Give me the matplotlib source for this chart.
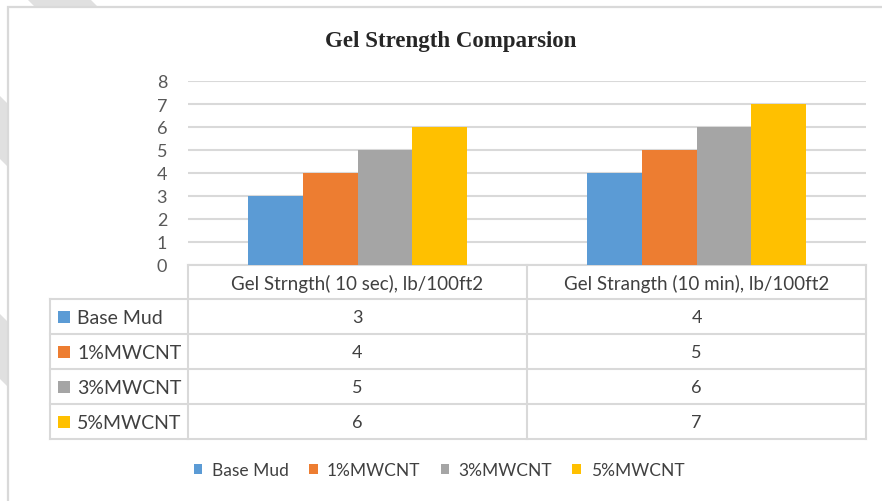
import matplotlib
matplotlib.use("Agg")
import matplotlib.pyplot as plt
from matplotlib.patches import Rectangle, Polygon
import numpy as np

title = "Gel Strength Comparsion"
categories = ["Gel Strngth( 10 sec), lb/100ft2", "Gel Strangth (10 min), lb/100ft2"]
series_names = ["Base Mud", "1%MWCNT", "3%MWCNT", "5%MWCNT"]
base_mud = [3, 4]
mwcnt_1 = [4, 5]
mwcnt_3 = [5, 6]
mwcnt_5 = [6, 7]
series_values = [base_mud, mwcnt_1, mwcnt_3, mwcnt_5]
colors = ["#5B9BD5", "#ED7D31", "#A5A5A5", "#FFC000"]
yticks = [0, 1, 2, 3, 4, 5, 6, 7, 8]

W, H = 882, 502
fig = plt.figure(figsize=(W / 100, H / 100), dpi=100)
fig.patch.set_facecolor("white")

# background overlay axes in pixel coordinates
bg = fig.add_axes([0, 0, 1, 1], zorder=-5)
bg.set_xlim(0, W)
bg.set_ylim(H, 0)
bg.axis("off")
stripe = "#e0e0e0"
for c1, c2 in [(27, 90), (-160, -97), (-380, -315)]:
    bg.add_patch(Polygon([(c1, 0), (c2, 0), (c2 + 700, 700), (c1 + 700, 700)],
                         closed=True, facecolor=stripe, edgecolor="none"))
bg.add_patch(Rectangle((8, 8), 900, 520, facecolor="white", edgecolor="#d9d9d9", lw=1.6))

font = "Lato"
tc = "#404040"

# main axes
L, R, T, B = 188, 866, 82, 266
ax = fig.add_axes([L / W, 1 - B / H, (R - L) / W, (B - T) / H])
ax.set_facecolor("none")
n = len(series_values)
group_w = 0.646
bw = group_w / n
x = np.arange(len(categories))
handles = []
for i, (name, vals, col) in enumerate(zip(series_names, series_values, colors)):
    h = ax.bar(x - group_w / 2 + bw * (i + 0.5), vals, width=bw, color=col, label=name, zorder=3)
    handles.append(h)
ax.set_xlim(-0.5, len(categories) - 0.5)
ax.set_ylim(0, 8)
ax.set_yticks(yticks)
ax.set_yticklabels([str(t) for t in yticks], fontsize=13, color="#595959", family=font)
ax.tick_params(axis="y", length=0, pad=15)
ax.set_xticks([])
ax.grid(axis="y", color="#d9d9d9", lw=1.5, zorder=0)
for s in ["top", "right", "left"]:
    ax.spines[s].set_visible(False)
ax.spines["bottom"].set_color("#d9d9d9")
ax.spines["bottom"].set_linewidth(1.5)

fig.text(451 / W, 1 - 41 / H, title, ha="center", va="center", fontsize=16.5,
         fontweight="bold", family="Liberation Serif", color="#262626")

# data table drawn in pixel coordinates on overlay axes
tb = fig.add_axes([0, 0, 1, 1], zorder=2)
tb.set_xlim(0, W)
tb.set_ylim(H, 0)
tb.axis("off")
lc = "#d9d9d9"
col_edges = [L + (R - L) * k / len(categories) for k in range(len(categories) + 1)]
row_edges = [B, 300, 335, 370, 405, 440]
tab_left = 50
for xe in col_edges:
    tb.plot([xe, xe], [row_edges[0], row_edges[-1]], color=lc, lw=1.5)
tb.plot([tab_left, tab_left], [row_edges[1], row_edges[-1]], color=lc, lw=1.5)
for ye in row_edges[1:]:
    tb.plot([tab_left, R], [ye, ye], color=lc, lw=1.5)
for j, cat in enumerate(categories):
    tb.text((col_edges[j] + col_edges[j + 1]) / 2, (row_edges[0] + row_edges[1]) / 2 + 1, cat,
            ha="center", va="center", fontsize=13.5, family=font, color=tc)
for i, (name, vals, col) in enumerate(zip(series_names, series_values, colors)):
    yc = (row_edges[i + 1] + row_edges[i + 2]) / 2
    tb.add_patch(Rectangle((58, yc - 6), 12, 12, facecolor=col, edgecolor="none"))
    tb.text(77, yc + 1, name, ha="left", va="center", fontsize=14, family=font, color=tc)
    for j, v in enumerate(vals):
        tb.text((col_edges[j] + col_edges[j + 1]) / 2, yc + 1, str(v), ha="center", va="center",
                fontsize=13, family=font, color=tc)

# bottom legend
fig.legend(handles=handles, labels=series_names, loc="center",
           bbox_to_anchor=(439 / W, 1 - 471 / H), ncol=4, frameon=False,
           prop={"family": font, "size": 12.5}, labelcolor=tc,
           handlelength=0.5, handleheight=0.5, handletextpad=0.55, columnspacing=1.15)

fig.savefig("out.png", dpi=100)
